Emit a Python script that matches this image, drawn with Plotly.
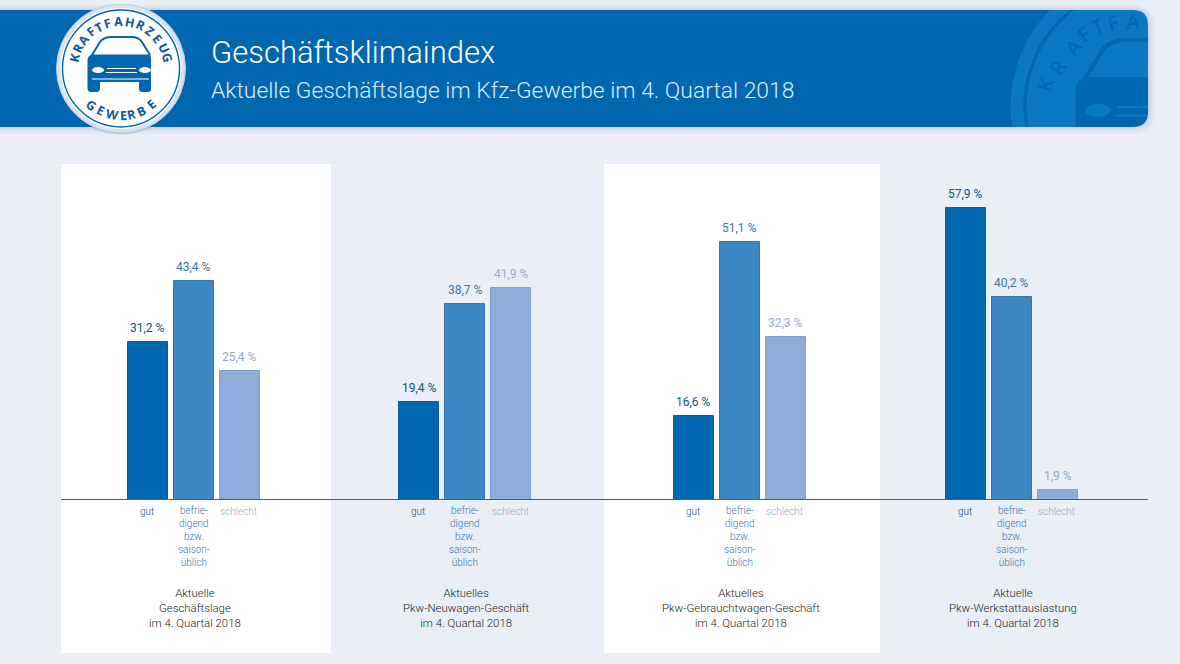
import numpy as np
import plotly.graph_objects as go

# ---- data ----
group_titles = ["Aktuelle<br>Geschäftslage<br>im 4. Quartal 2018",
                "Aktuelles<br>Pkw-Neuwagen-Geschäft<br>im 4. Quartal 2018",
                "Aktuelles<br>Pkw-Gebrauchtwagen-Geschäft<br>im 4. Quartal 2018",
                "Aktuelle<br>Pkw-Werkstattauslastung<br>im 4. Quartal 2018"]
series_names = ["gut", "befrie-<br>digend<br>bzw.<br>saison-<br>üblich", "schlecht"]
gut = [31.2, 19.4, 16.6, 57.9]
befriedigend = [43.4, 38.7, 51.1, 40.2]
schlecht = [25.4, 41.9, 32.3, 1.9]
title_text = "Geschäftsklimaindex"
subtitle_text = "Aktuelle Geschäftslage im Kfz-Gewerbe im 4. Quartal 2018"
logo_top = "KRAFTFAHRZEUG"
logo_bottom = "GEWERBE"

# ---- layout constants ----
W, H = 1180, 664
BG = "#E9EEF7"
BLUE = "#0066B0"
WM = "#0B78C4"
group_x = [193.5, 465.4, 739.5, 1011.5]
bar_off = [-46, 0, 46]
bar_w = 40
colors = [BLUE, "#3D87C3", "#8CACD9"]
borders = ["#0A5C9C", "#3279B3", "#7F9FCC"]
txt_col = ["#0D5288", "#3378AD", "#93ACCB"]
BASE = 499.5
PX = 5.043
FONT = "Roboto"

def Y(p):
    return 1 - p / H

shapes, ann = [], []

def rect(x0, y0, x1, y1, fill, layer="below", op=1):
    shapes.append(dict(type="rect", xref="x", yref="paper", x0=x0, x1=x1, y0=Y(y0), y1=Y(y1),
                       fillcolor=fill, line_width=0, layer=layer, opacity=op))

def circ(cx, cy, r, fill="rgba(0,0,0,0)", lc=None, lw=0, layer="below"):
    shapes.append(dict(type="circle", xref="x", yref="paper", x0=cx - r, x1=cx + r, y0=Y(cy - r), y1=Y(cy + r),
                       fillcolor=fill, line=dict(color=lc or "rgba(0,0,0,0)", width=lw), layer=layer))

def path(d_pts, fill=None, lc=None, lw=0, close=True, op=1):
    """d_pts: list of (cmd, [(x,y),...]) in pixel coordinates"""
    s = ""
    for cmd, pts in d_pts:
        if cmd == "Z":
            s += "Z "
            continue
        s += cmd + " ".join(f"{x:.2f},{Y(y):.5f}" for x, y in pts) + " "
    if close:
        s += "Z"
    shapes.append(dict(type="path", path=s, xref="x", yref="paper", fillcolor=fill or "rgba(0,0,0,0)",
                       line=dict(color=lc or "rgba(0,0,0,0)", width=lw), layer="below", opacity=op))

def text(x, y, s, size, color, angle=0, family=FONT, weight=None, xanchor="center", yanchor="middle"):
    f = dict(size=size, color=color, family=family)
    if weight:
        f["weight"] = weight
    ann.append(dict(x=x, y=Y(y), xref="x", yref="paper", text=s, showarrow=False, font=f, textangle=angle,
                    xanchor=xanchor, yanchor=yanchor, align="center"))

def rounded(x0, y0, x1, y1, r):
    return [("M", [(x0, y0)]), ("L", [(x1 - r, y0)]), ("Q", [(x1, y0), (x1, y0 + r)]),
            ("L", [(x1, y1 - r)]), ("Q", [(x1, y1), (x1 - r, y1)]), ("L", [(x0, y1)]), ("Z", [])]

def car(cx, cy, s, col, hl):
    P = lambda x, y: (cx + (x - 121) * s, cy + (y - 68) * s)
    # body
    path([("M", [P(87.5, 60)]), ("Q", [P(88, 55.5), P(92, 54.5)]), ("L", [P(150, 54.5)]),
          ("Q", [P(151, 56), P(151, 60)]), ("L", [P(151, 89)]), ("Q", [P(151, 92), P(148, 92)]),
          ("L", [P(142, 92)]), ("Q", [P(139, 92), P(139, 88)]), ("L", [P(139, 82)]), ("L", [P(100, 82)]),
          ("L", [P(100, 88)]), ("Q", [P(100, 92), P(97, 92)]), ("L", [P(91, 92)]), ("Q", [P(87.5, 92), P(87.5, 88)])],
         fill=col)
    # roof line
    path([("M", [P(92, 55)]), ("L", [P(100, 42)]), ("Q", [P(103, 37.5), P(110, 37)]), ("L", [P(133, 37)]),
          ("Q", [P(139, 37.5), P(142, 42)]), ("L", [P(150, 55)])], lc=col, lw=2 * s, close=False)
    # headlights
    for c in (98, 145):
        shapes.append(dict(type="circle", xref="x", yref="paper", x0=P(c - 6, 0)[0], x1=P(c + 6, 0)[0],
                           y0=Y(P(0, 67)[1]), y1=Y(P(0, 73)[1]), fillcolor=hl, line_width=0, layer="below"))
    for y0, a, b, w in ((68.5, 107, 136, 1), (72.5, 106, 137, 1), (79, 92, 149, 1)):
        path([("M", [P(a, y0)]), ("L", [P(b, y0)])], lc=hl, lw=w * s, close=False)

# ---- background panels ----
rect(61, 164, 331, 653, "#FFFFFF")
rect(604, 164, 880, 653, "#FFFFFF")

# ---- banner body, watermark, mask, shadow ----
path(rounded(0, 10, 1148, 127, 15), fill=BLUE)

def clipped_disc(cx, cy, r):
    t = np.linspace(0, 2 * np.pi, 240)
    xs = np.clip(cx + r * np.cos(t), None, 1148)
    ys = np.clip(cy + r * np.sin(t), 10, 127)
    return [("M", [(xs[0], ys[0])])] + [("L", [(a, b)]) for a, b in zip(xs[1:], ys[1:])]

WC = (1147, 106, 2.13)
path(clipped_disc(WC[0], WC[1], 64 * WC[2]), fill=WM)
path(clipped_disc(WC[0], WC[1], 58 * WC[2]), fill=BLUE)
path(clipped_disc(WC[0], WC[1], 56.5 * WC[2]), fill=WM)
car(WC[0], WC[1], WC[2], BLUE, WM)

# mask outside the rounded banner
mask = [("M", [(1000, 0)]), ("L", [(1180, 0)]), ("L", [(1180, 160)]), ("L", [(1000, 160)]), ("L", [(1000, 127)]),
        ("L", [(1133, 127)]), ("Q", [(1148, 127), (1148, 112)]), ("L", [(1148, 25)]), ("Q", [(1148, 10), (1133, 10)]),
        ("L", [(1000, 10)])]
path(mask, fill=BG)
# soft shadow ring around the banner
for i, op in zip((7, 5, 3, 1.5), (0.035, 0.045, 0.055, 0.07)):
    path(rounded(-5, 10 - i * 0.7, 1148 + i, 127 + i, 15 + i) + rounded(-5, 10, 1148, 127, 15),
         fill="#5F7095", op=op, close=False)

# ---- logo ----
LX, LY = 121, 68.5
circ(LX, LY + 1, 65, fill="rgba(40,70,120,0.18)")
circ(LX, LY, 64.5, fill="#D7E4F0", lc="#B8CFE4", lw=1)
circ(LX, LY, 60.5, fill="#FFFFFF")
circ(LX, LY, 58.5, fill="#FFFFFF", lc=BLUE, lw=1.4)
car(LX, LY - 0.5, 1, BLUE, "#FFFFFF")

top_ang = [-77, -64, -52, -39, -28, -17, -3, 11, 25, 38, 50, 64, 77]
for ch, a in zip(logo_top, top_ang):
    r = 47
    x = LX + r * np.sin(np.radians(a))
    y = LY - r * np.cos(np.radians(a))
    text(float(x), float(y), ch, 12.5, "#0A5A9C", angle=a, family="Open Sans", weight=700)
bot_ang = [39, 26, 11, -3, -13, -25, -40]
for ch, a in zip(logo_bottom, bot_ang):
    r = 47
    x = LX - r * np.sin(np.radians(a))
    y = LY + r * np.cos(np.radians(a))
    text(float(x), float(y), ch, 12.5, "#0A5A9C", angle=a, family="Open Sans", weight=700)

# watermark letters
wm_letters = [("K", 1045, 85, -70), ("R", 1058, 68, -58), ("A", 1074, 47, -47), ("F", 1084, 35, -36),
              ("T", 1097, 27, -25), ("F", 1113, 23, -14), ("A", 1133, 22, -3)]
for ch, x, y, a in wm_letters:
    text(x, y, ch, 20, "#0068B2", angle=a, family="Open Sans", weight=600)

# ---- heading ----
text(209, 53, title_text, 31, "#FFFFFF", xanchor="left", weight=300)
text(209, 90, subtitle_text, 22.85, "#D9ECF8", xanchor="left", weight=300)

# ---- traces ----
fig = go.Figure()
for k, vals in enumerate((gut, befriedigend, schlecht)):
    xs = [g + bar_off[k] for g in group_x]
    fig.add_trace(go.Bar(x=xs, y=vals, width=bar_w, marker=dict(color=colors[k], line=dict(color=borders[k], width=1)),
                         hoverinfo="skip", showlegend=False))
    for x, v in zip(xs, vals):
        ann.append(dict(x=x, y=v, xref="x", yref="y", text=f"{v:.1f} %".replace(".", ","), showarrow=False,
                        yanchor="bottom", yshift=5, font=dict(size=12, color=txt_col[k], family=FONT)))
        if k == 1:
            text(x, 536, series_names[k], 10, txt_col[k], weight=300)
        else:
            text(x - 1, 511, series_names[k], 10, txt_col[k], weight=300)

for g, t in zip(group_x, group_titles):
    text(g + 1.5, 608, t, 11.4, "#1D1D1B", weight=300)

# ---- baseline ----
shapes.append(dict(type="line", xref="x", yref="paper", x0=61, x1=1148, y0=Y(499.5), y1=Y(499.5),
                   line=dict(color="#555E66", width=1.2), layer="above"))

fig.update_layout(
    width=W, height=H, margin=dict(l=0, r=0, t=0, b=0), autosize=False,
    paper_bgcolor=BG, plot_bgcolor="rgba(0,0,0,0)", barmode="overlay", bargap=0,
    xaxis=dict(range=[0, W], visible=False, fixedrange=True),
    yaxis=dict(range=[-(H - BASE) / PX, BASE / PX], visible=False, fixedrange=True),
    shapes=shapes, annotations=ann,
)
fig.write_html("out.html", post_script="document.body.style.margin='0';document.body.style.background='%s';" % BG,
               config={"displayModeBar": False})
